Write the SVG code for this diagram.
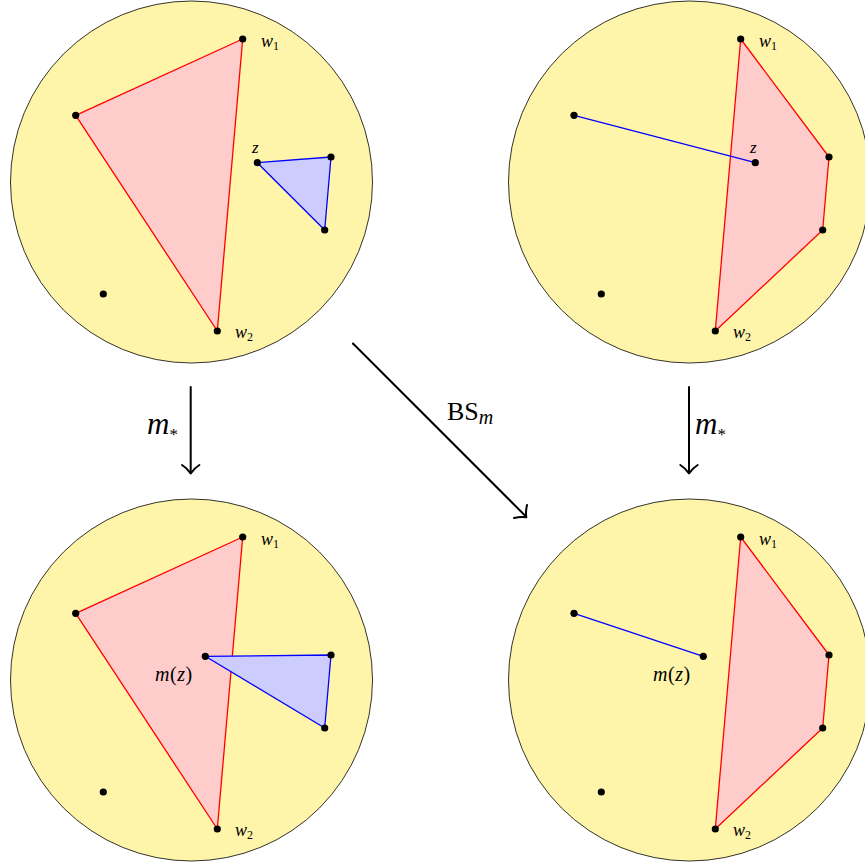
<svg xmlns="http://www.w3.org/2000/svg" width="865" height="867" viewBox="0 0 865 867">
<style>
.disk{fill:#FFF5AA;stroke:#000;stroke-width:0.8}
.rp{fill:#FFCCCC;stroke:#FF0000;stroke-width:1.3;stroke-linejoin:round}
.bp{fill:#CCCCFF;stroke:#0000FF;stroke-width:1.3;stroke-linejoin:round}
.bl{fill:none;stroke:#0000FF;stroke-width:1.3}
.pt{fill:#000}
text{font-family:"Liberation Serif",serif;fill:#000}
.it{font-style:italic}
.rm{font-style:normal}
.arr{fill:none;stroke:#000;stroke-width:2;stroke-linecap:round;stroke-linejoin:round}
</style>
<defs>
<circle id="d" r="3.6" class="pt"/>
</defs>

<g id="topLeft">
<circle class="disk" cx="191.5" cy="182" r="181"/>
<polygon class="rp" points="242.7,39 75.7,115.3 217.3,331"/>
<polygon class="bp" points="257.3,162.7 331,157 324.7,230"/>
<use href="#d" x="242.7" y="39"/><use href="#d" x="75.7" y="115.3"/><use href="#d" x="217.3" y="331"/>
<use href="#d" x="257.3" y="162.7"/><use href="#d" x="331" y="157"/><use href="#d" x="324.7" y="230"/>
<use href="#d" x="103.3" y="294"/>
<text class="it" x="261" y="47" font-size="18">w<tspan class="rm" font-size="12" dy="3">1</tspan></text>
<text class="it" x="235" y="338" font-size="18">w<tspan class="rm" font-size="12" dy="3">2</tspan></text>
<text class="it" x="252" y="153" font-size="17">z</text>
</g>

<g id="topRight">
<circle class="disk" cx="689.5" cy="182" r="181"/>
<polygon class="rp" points="740.7,39 829,157 822.7,230 715.3,331"/>
<line class="bl" x1="574" y1="115.3" x2="755.3" y2="162.7"/>
<use href="#d" x="740.7" y="39"/><use href="#d" x="829" y="157"/><use href="#d" x="822.7" y="230"/><use href="#d" x="715.3" y="331"/>
<use href="#d" x="574" y="115.3"/><use href="#d" x="755.3" y="162.7"/>
<use href="#d" x="601.3" y="294"/>
<text class="it" x="759" y="47" font-size="18">w<tspan class="rm" font-size="12" dy="3">1</tspan></text>
<text class="it" x="733" y="338" font-size="18">w<tspan class="rm" font-size="12" dy="3">2</tspan></text>
<text class="it" x="750" y="153" font-size="17">z</text>
</g>

<g id="bottomLeft">
<circle class="disk" cx="191.5" cy="680" r="181"/>
<polygon class="rp" points="242.7,537 75.7,613.3 217.3,829"/>
<polygon class="bp" points="205.3,656.3 331,655 324.7,728"/>
<use href="#d" x="242.7" y="537"/><use href="#d" x="75.7" y="613.3"/><use href="#d" x="217.3" y="829"/>
<use href="#d" x="205.3" y="656.3"/><use href="#d" x="331" y="655"/><use href="#d" x="324.7" y="728"/>
<use href="#d" x="103.3" y="792"/>
<text class="it" x="261" y="545" font-size="18">w<tspan class="rm" font-size="12" dy="3">1</tspan></text>
<text class="it" x="235" y="836" font-size="18">w<tspan class="rm" font-size="12" dy="3">2</tspan></text>
<text class="it" x="155" y="681" font-size="20" letter-spacing="0.5">m<tspan class="rm">(</tspan>z<tspan class="rm">)</tspan></text>
</g>

<g id="bottomRight">
<circle class="disk" cx="689.5" cy="680" r="181"/>
<polygon class="rp" points="740.7,537 829,655 822.7,728 715.3,829"/>
<line class="bl" x1="574" y1="613.3" x2="703.3" y2="656.3"/>
<use href="#d" x="740.7" y="537"/><use href="#d" x="829" y="655"/><use href="#d" x="822.7" y="728"/><use href="#d" x="715.3" y="829"/>
<use href="#d" x="574" y="613.3"/><use href="#d" x="703.3" y="656.3"/>
<use href="#d" x="601.3" y="792"/>
<text class="it" x="759" y="545" font-size="18">w<tspan class="rm" font-size="12" dy="3">1</tspan></text>
<text class="it" x="733" y="836" font-size="18">w<tspan class="rm" font-size="12" dy="3">2</tspan></text>
<text class="it" x="653" y="681" font-size="20" letter-spacing="0.5">m<tspan class="rm">(</tspan>z<tspan class="rm">)</tspan></text>
</g>

<g id="connectors">
<path class="arr" d="M190.7,387 V473"/>
<path class="arr" d="M182,465 Q187,468 190.7,473.5 Q194.4,468 199.4,465"/>
<path class="arr" d="M689,387 V473"/>
<path class="arr" d="M680.3,465 Q685.3,468 689,473.5 Q692.7,468 697.7,465"/>
<path class="arr" d="M353,343.5 L526,516.5"/>
<path class="arr" d="M527,505 Q525.5,511.5 526.3,517.3 Q520.3,516.5 514,518"/>
<text class="it" x="147" y="434" font-size="31">m<tspan class="rm" font-size="17" dy="6">*</tspan></text>
<text class="it" x="695" y="434" font-size="31">m<tspan class="rm" font-size="17" dy="6">*</tspan></text>
<text x="447" y="420" font-size="26">BS<tspan class="it" font-size="20" dy="4">m</tspan></text>
</g>
</svg>
